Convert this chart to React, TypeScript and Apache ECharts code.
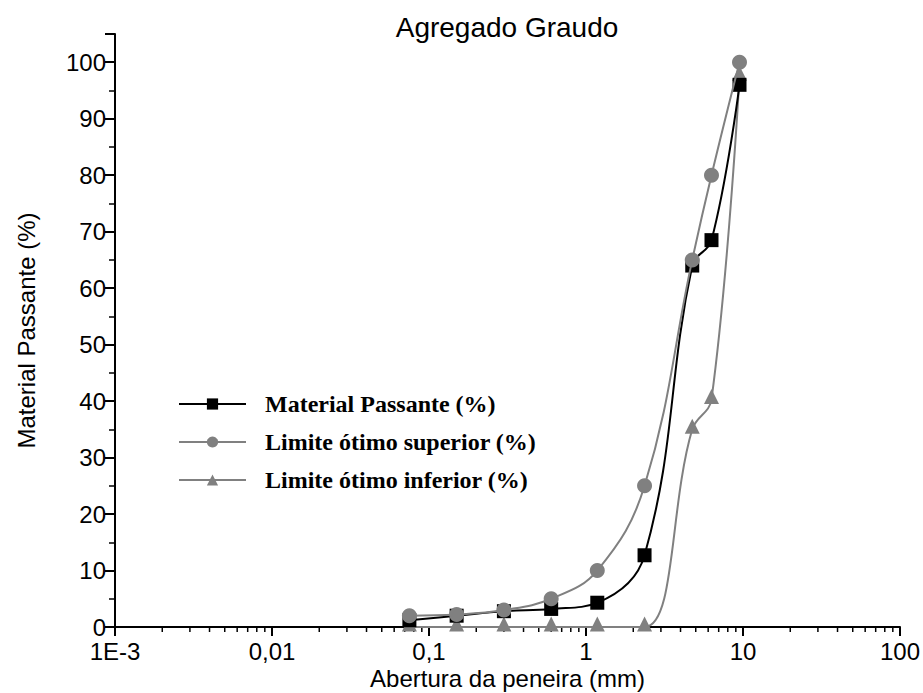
import React, { useEffect, useRef } from "react";
import * as echarts from "echarts";

const sieveSizes = [0.075, 0.15, 0.3, 0.6, 1.18, 2.36, 4.75, 6.3, 9.5];
const materialPassante = [1.2, 2.0, 2.8, 3.2, 4.3, 12.7, 64, 68.5, 96];
const limiteSuperior = [2, 2.2, 3, 5, 10, 25, 65, 80, 100];
const limiteInferior = [0, 0, 0, 0, 0, 0, 35, 40.3, 97.5];
const seriesNames = ["Material Passante (%)", "Limite ótimo superior (%)", "Limite ótimo inferior (%)"];
const xTickLabels: Record<string, string> = {
  "0.001": "1E-3",
  "0.01": "0,01",
  "0.1": "0,1",
  "1": "1",
  "10": "10",
  "100": "100",
};
const xMinorTicks = [
  0.002, 0.003, 0.004, 0.005, 0.006, 0.007, 0.008, 0.009,
  0.02, 0.03, 0.04, 0.05, 0.06, 0.07, 0.08, 0.09,
  0.2, 0.3, 0.4, 0.5, 0.6, 0.7, 0.8, 0.9,
  2, 3, 4, 5, 6, 7, 8, 9,
  20, 30, 40, 50, 60, 70, 80, 90,
];

const GRAY = "#808080";
const SANS = "Liberation Sans, Arial, sans-serif";

export default function App() {
  const ref = useRef<HTMLDivElement>(null);
  useEffect(() => {
    if (!ref.current) return;
    const chart = echarts.init(ref.current, null, { renderer: "svg" });
    const pair = (ys: number[]) => sieveSizes.map((x, i) => [x, ys[i]]);
    chart.setOption({
      animation: false,
      backgroundColor: "#ffffff",
      title: {
        text: "Agregado Graudo",
        left: 502,
        textAlign: "center",
        top: 8,
        textStyle: { fontFamily: SANS, fontSize: 28, fontWeight: "normal", color: "#000" },
      },
      grid: { left: 115, right: 23, top: 34, bottom: 66, containLabel: false, outerBoundsMode: "none" },
      legend: {
        orient: "vertical",
        left: 173,
        top: 387,
        itemWidth: 67,
        itemHeight: 14,
        itemGap: 14,
        data: seriesNames,
        textStyle: {
          fontFamily: "Liberation Serif, Times New Roman, serif",
          fontWeight: "bold",
          fontSize: 24,
          color: "#000",
          padding: [0, 0, 0, 14],
        },
      },
      xAxis: {
        type: "log",
        logBase: 10,
        min: 0.001,
        max: 100,
        name: "Abertura da peneira (mm)",
        nameLocation: "middle",
        nameGap: 40,
        nameMoveOverlap: false,
        nameTextStyle: { fontFamily: SANS, fontSize: 24, lineHeight: 22, color: "#000" },
        axisLine: { show: true, onZero: false, lineStyle: { color: "#000", width: 2 } },
        axisTick: { show: true, inside: false, length: 9, lineStyle: { color: "#000", width: 2 } },
        splitLine: { show: false },
        axisLabel: {
          margin: 14,
          fontFamily: SANS,
          fontSize: 24,
          lineHeight: 20,
          color: "#000",
          formatter: (v: number) => {
            const key = String(Number(v.toPrecision(6)));
            return xTickLabels[key] ?? "";
          },
        },
      },
      yAxis: {
        type: "value",
        min: 0,
        max: 105,
        interval: 10,
        name: "Material Passante (%)",
        nameLocation: "middle",
        nameGap: 77,
        nameMoveOverlap: false,
        nameTextStyle: { fontFamily: SANS, fontSize: 24, color: "#000" },
        axisLine: { show: true, lineStyle: { color: "#000", width: 2 } },
        axisTick: { show: true, inside: false, length: 10, lineStyle: { color: "#000", width: 2 } },
        minorTick: { show: true, splitNumber: 2, length: 6, lineStyle: { color: "#000", width: 1.5 } },
        splitLine: { show: false },
        minorSplitLine: { show: false },
        axisLabel: {
          margin: 9,
          fontFamily: SANS,
          fontSize: 24,
          lineHeight: 20,
          color: "#000",
          formatter: (v: number) => (v % 10 === 0 ? String(v) : ""),
        },
      },
      series: [
        {
          name: seriesNames[2],
          type: "line",
          data: pair(limiteInferior),
          smooth: 0.4,
          symbol: "triangle",
          symbolSize: 15,
          symbolOffset: [0, -3],
          itemStyle: { color: GRAY },
          lineStyle: { color: GRAY, width: 2 },
          z: 2,
        },
        {
          name: seriesNames[1],
          type: "line",
          data: pair(limiteSuperior),
          smooth: 0.4,
          symbol: "circle",
          symbolSize: 15,
          itemStyle: { color: GRAY },
          lineStyle: { color: GRAY, width: 2 },
          z: 3,
        },
        {
          name: seriesNames[0],
          type: "line",
          data: pair(materialPassante),
          smooth: 0.4,
          symbol: "rect",
          symbolSize: 14,
          itemStyle: { color: "#000" },
          lineStyle: { color: "#000", width: 2 },
          z: 2,
        },
        {
          type: "custom",
          silent: true,
          data: xMinorTicks.map((v) => [v, 0]),
          encode: { x: 0, y: 1 },
          renderItem: (params: any, api: any) => {
            const p = api.coord([api.value(0), 0]);
            return {
              type: "line",
              shape: { x1: p[0], y1: p[1], x2: p[0], y2: p[1] + 5 },
              style: { stroke: "#000", lineWidth: 1.5 },
            };
          },
          z: 1,
        },
      ],
    });
    return () => chart.dispose();
  }, []);
  return <div ref={ref} style={{ position: "fixed", left: 0, top: 0, width: 923, height: 693 }} />;
}
